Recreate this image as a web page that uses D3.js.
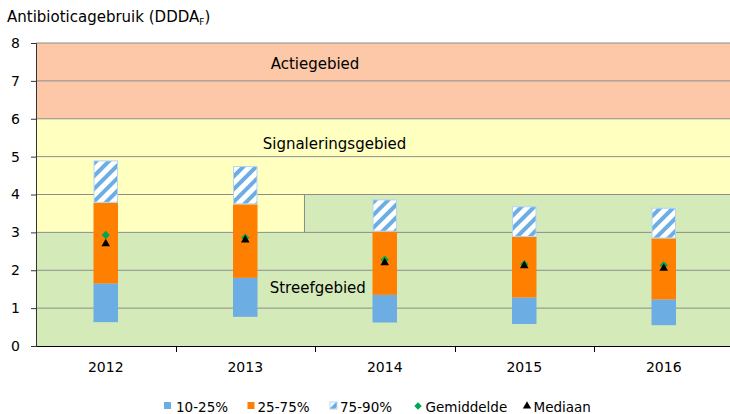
<!DOCTYPE html>
<html>
<head>
<meta charset="utf-8">
<script src="https://cdn.jsdelivr.net/npm/d3@7"></script>
<style>
  body { margin: 0; background: #fff; }
  text { font-family: "DejaVu Sans", Verdana, sans-serif; fill: #000; }
</style>
</head>
<body>
<div id="container"></div>
<script>
// data
const years = ["2012", "2013", "2014", "2015", "2016"];
const p10 = [0.63, 0.77, 0.62, 0.58, 0.55];
const p25 = [1.65, 1.80, 1.35, 1.28, 1.23];
const p75 = [3.78, 3.74, 3.02, 2.88, 2.84];
const p90 = [4.90, 4.75, 3.87, 3.69, 3.65];
const meanVals = [2.93, 2.86, 2.28, 2.16, 2.13];
const medianVals = [2.70, 2.80, 2.20, 2.12, 2.05];
const yTicks = [0, 1, 2, 3, 4, 5, 6, 7, 8];
const legendLabels = ["10-25%", "25-75%", "75-90%", "Gemiddelde", "Mediaan"];
const zoneLabels = ["Actiegebied", "Signaleringsgebied", "Streefgebied"];
// zone limits: streefgebied top steps from 3 to 4 between 2013 and 2014 (x in category units)
const streefX = [0, 1.92, 1.92, 5];
const streefTop = [3, 3, 4, 4];
const signalTop = 6;
const actieTop = 8;

const w = 730, h = 414;
const pLeft = 36, pTop = 43, pBottom = 346, pRight = 733.5;

const svg = d3.select("#container").append("svg").attr("width", w).attr("height", h);

const x = d3.scaleBand().domain(years).range([pLeft, pRight]);
const xu = d3.scaleLinear().domain([0, 5]).range([pLeft, pRight]); // category units for zones
const y = d3.scaleLinear().domain([0, 8]).range([pBottom, pTop]);

// pattern for 75-90%
const defs = svg.append("defs");
const pat = defs.append("pattern").attr("id", "stripe").attr("patternUnits", "userSpaceOnUse")
  .attr("width", 9).attr("height", 9).attr("patternTransform", "rotate(45)");
pat.append("rect").attr("width", 9).attr("height", 9).attr("fill", "#fff");
pat.append("rect").attr("width", 4).attr("height", 9).attr("fill", "#6cade4");

// zones
svg.append("rect").attr("x", pLeft).attr("y", y(actieTop)).attr("width", pRight - pLeft)
  .attr("height", y(signalTop) - y(actieTop)).attr("fill", "#fcc8a8");
svg.append("rect").attr("x", pLeft).attr("y", y(signalTop)).attr("width", pRight - pLeft)
  .attr("height", y(0) - y(signalTop)).attr("fill", "#ffffc0");
const streefPts = [[streefX[0], 0]].concat(streefX.map((d, i) => [d, streefTop[i]])).concat([[streefX[3], 0]]);
svg.append("path")
  .attr("d", d3.line().x(d => xu(d[0])).y(d => y(d[1]))(streefPts) + "Z")
  .attr("fill", "#d4eab9");

// gridlines
svg.selectAll(".grid").data(yTicks.slice(1)).enter().append("line")
  .attr("x1", pLeft).attr("x2", pRight).attr("y1", d => y(d)).attr("y2", d => y(d))
  .attr("stroke", "#8c8c8c").attr("stroke-width", 1);
svg.append("line")
  .attr("x1", Math.round(xu(streefX[1])) + 0.5).attr("x2", Math.round(xu(streefX[1])) + 0.5)
  .attr("y1", y(streefTop[1])).attr("y2", y(streefTop[2]))
  .attr("stroke", "#8c8c8c");

// zone labels
svg.append("text").attr("x", xu(2.0)).attr("y", y(7.31)).attr("text-anchor", "middle")
  .attr("font-size", 15).text(zoneLabels[0]);
svg.append("text").attr("x", xu(2.14)).attr("y", y(5.2)).attr("text-anchor", "middle")
  .attr("font-size", 15).text(zoneLabels[1]);
svg.append("text").attr("x", xu(2.02)).attr("y", y(1.4)).attr("text-anchor", "middle")
  .attr("font-size", 15).text(zoneLabels[2]);

// bars
const bw = 24.5;
const cx = d => x(d) + x.bandwidth() / 2;
const bars = svg.append("g");
bars.selectAll(".b1").data(years).enter().append("rect")
  .attr("x", d => cx(d) - bw / 2).attr("width", bw)
  .attr("y", (d, i) => y(p25[i])).attr("height", (d, i) => y(p10[i]) - y(p25[i]))
  .attr("fill", "#6cade4");
bars.selectAll(".b2").data(years).enter().append("rect")
  .attr("x", d => cx(d) - bw / 2).attr("width", bw)
  .attr("y", (d, i) => y(p75[i])).attr("height", (d, i) => y(p25[i]) - y(p75[i]))
  .attr("fill", "#ff7f00");
bars.selectAll(".b3").data(years).enter().append("rect")
  .attr("x", d => cx(d) - bw / 2 + 0.5).attr("width", bw - 1)
  .attr("y", (d, i) => y(p90[i]) + 0.5).attr("height", (d, i) => y(p75[i]) - y(p90[i]) - 1)
  .attr("fill", "url(#stripe)").attr("stroke", "#b4d5f2").attr("stroke-width", 1);

// markers
const diamond = d3.symbol().type(d3.symbolDiamond2).size(44);
const triangle = d3.symbol().type(d3.symbolTriangle).size(32);
svg.selectAll(".mean").data(years).enter().append("path")
  .attr("d", diamond).attr("transform", (d, i) => `translate(${cx(d)},${y(meanVals[i])})`)
  .attr("fill", "#00a651");
svg.selectAll(".median").data(years).enter().append("path")
  .attr("d", triangle).attr("transform", (d, i) => `translate(${cx(d)},${y(medianVals[i])})`)
  .attr("fill", "#000");

// axes
const yAxis = d3.axisLeft(y).tickValues(yTicks).tickFormat(d3.format("d")).tickSize(5).tickPadding(11);
const gy = svg.append("g").attr("transform", `translate(${pLeft},0)`).call(yAxis);
gy.select(".domain").attr("stroke", "#333");
gy.selectAll(".tick line").attr("stroke", "#333");
gy.selectAll("text").attr("font-size", 14).attr("font-family", null);

const xAxis = d3.axisBottom(x).tickSize(0).tickPadding(16).tickSizeOuter(0);
const gx = svg.append("g").attr("transform", `translate(0,${pBottom})`).call(xAxis);
gx.select(".domain").attr("stroke", "#000");
gx.selectAll("text").attr("font-size", 14).attr("font-family", null);
svg.selectAll(".xt").data(years.slice(1)).enter().append("line")
  .attr("x1", d => Math.round(x(d)) + 0.5).attr("x2", d => Math.round(x(d)) + 0.5)
  .attr("y1", pBottom).attr("y2", pBottom + 6).attr("stroke", "#000");

// title
const title = svg.append("text").attr("x", 7).attr("y", 22).attr("font-size", 15);
title.append("tspan").text("Antibioticagebruik (DDDA");
title.append("tspan").attr("font-size", 9).attr("dy", 3).text("F");
title.append("tspan").attr("dy", -3).text(")");

// legend
const ly = 412;
const lg = svg.append("g");
const sq = [164, 247.5, 330];
const sqFill = ["#6cade4", "#ff7f00", "url(#stripe)"];
sq.forEach((sx, i) => {
  lg.append("rect").attr("x", sx).attr("y", ly - 10).attr("width", 7).attr("height", 7)
    .attr("fill", sqFill[i]).attr("stroke", i === 2 ? "#b4d5f2" : "none");
});
lg.append("path").attr("d", d3.symbol().type(d3.symbolDiamond2).size(36))
  .attr("transform", `translate(418,${ly - 6})`).attr("fill", "#00a651");
lg.append("path").attr("d", d3.symbol().type(d3.symbolTriangle).size(30))
  .attr("transform", `translate(527,${ly - 6})`).attr("fill", "#000");
const lx = [176, 257.5, 340, 425.5, 533.5];
lg.selectAll(".lt").data(legendLabels).enter().append("text")
  .attr("x", (d, i) => lx[i]).attr("y", ly).attr("font-size", 13.5).text(d => d);
</script>
</body>
</html>
